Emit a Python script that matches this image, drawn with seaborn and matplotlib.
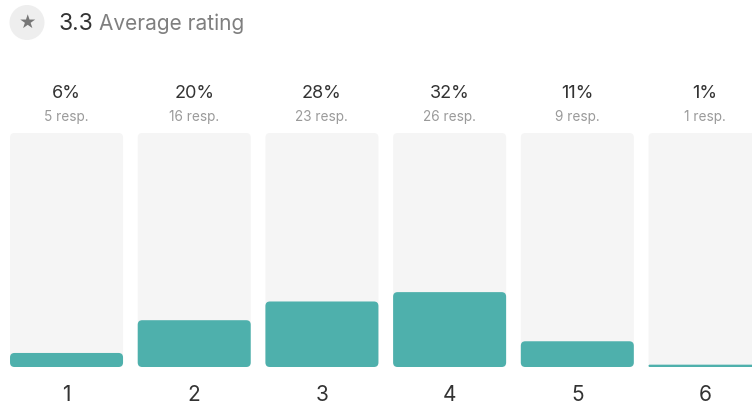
import matplotlib
matplotlib.use("Agg")
import matplotlib.pyplot as plt
import seaborn as sns
import pandas as pd
from matplotlib.patches import FancyBboxPatch, Circle

# Rating distribution
ratings = ["1", "2", "3", "4", "5", "6"]
percents = [6, 20, 28, 32, 11, 1]
responses = [5, 16, 23, 26, 9, 1]
average = "3.3"

TEAL = "#4EB0AC"
TRACK = "#F5F5F5"
DARK = "#333333"
GREY = "#7F7F7F"
LIGHT = "#9A9A9A"

sns.set_theme(style="white")
plt.rcParams["font.family"] = ["Inter", "DejaVu Sans"]

df = pd.DataFrame({"rating": ratings, "percent": percents,
                   "track": [100] * len(ratings)})

W, H = 752, 407
fig = plt.figure(figsize=(W / 100, H / 100), dpi=100)
fig.patch.set_facecolor("white")
ax = fig.add_axes([0, 40 / H, 1, 234 / H])

sns.barplot(data=df, x="rating", y="track", color=TRACK, saturation=1,
            width=0.885, errorbar=None, ax=ax)
sns.barplot(data=df, x="rating", y="percent", color=TEAL, saturation=1,
            width=0.885, errorbar=None, ax=ax)

ax.set_xlim(-0.521, 5.368)
ax.set_ylim(0, 100)

# Replace square bars with rounded ones
x0p, y0p = ax.transData.transform((0, 0))
x1p, y1p = ax.transData.transform((1, 1))
sx, sy = x1p - x0p, y1p - y0p
for p in list(ax.patches):
    x, y, w, h = p.get_x(), p.get_y(), p.get_width(), p.get_height()
    fc = p.get_facecolor()
    p.remove()
    rad_px = min(4.5, h * sy / 2, w * sx / 2)
    box = FancyBboxPatch((x, y), w, h,
                         boxstyle=f"round,pad=0,rounding_size={rad_px / sx}",
                         mutation_aspect=sx / sy, fc=fc, ec="none")
    ax.add_patch(box)

for i, (pct, n) in enumerate(zip(percents, responses)):
    ax.text(i, 117.0, f"{pct}%", ha="center", va="center",
            fontsize=13, color=DARK)
    ax.text(i, 107.0, f"{n} resp.", ha="center", va="center",
            fontsize=9.8, color=LIGHT)

ax.set_xlabel("")
ax.set_ylabel("")
ax.set_yticks([])
ax.tick_params(axis="x", length=0, pad=13, labelsize=15, labelcolor=DARK)
sns.despine(ax=ax, left=True, bottom=True)

# Header: star badge and average rating
fig.add_artist(Circle((27 / 100, (H - 22.5) / 100), 0.175,
                      transform=fig.dpi_scale_trans, fc="#EEEEEE", ec="none"))
fig.text(27 / W, 1 - 22.5 / H, "★", ha="center", va="center",
         fontsize=14, color="#777777", family="DejaVu Sans")
fig.text(58 / W, 1 - 23.5 / H, average, ha="left", va="center",
         fontsize=16.5, color=DARK)
fig.text(99 / W, 1 - 23.5 / H, "Average rating", ha="left", va="center",
         fontsize=15, color=GREY)

fig.savefig("out.png", dpi=100, facecolor="white")
